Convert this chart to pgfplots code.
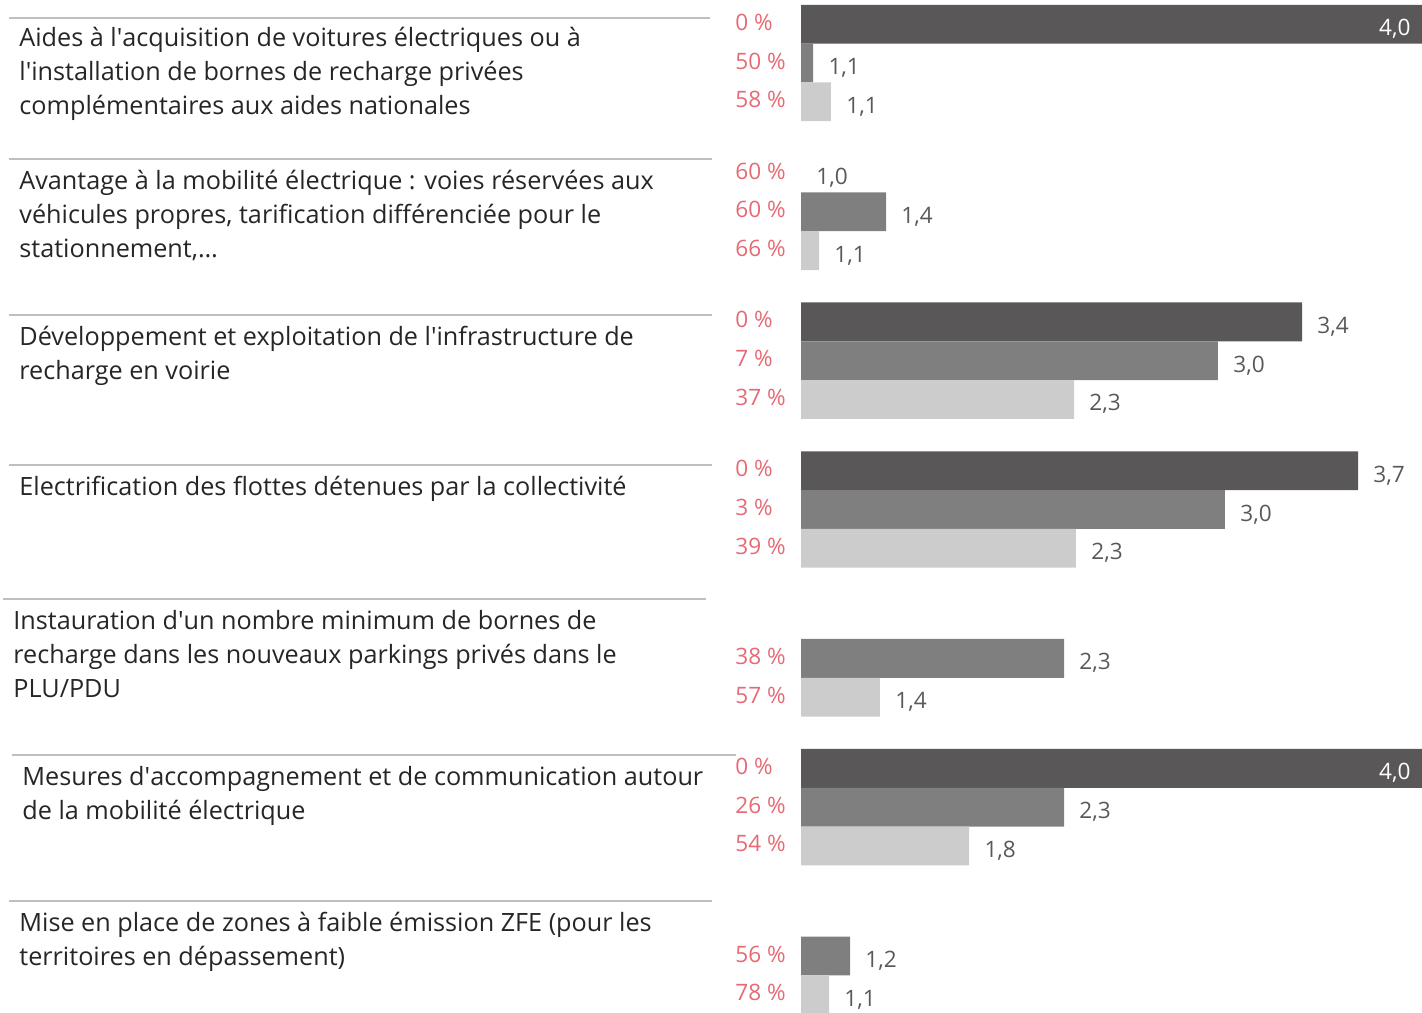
\documentclass[border=0pt]{standalone}
\usepackage{pgfplots}
\pgfplotsset{compat=1.18}
\usepackage{pgfplotstable}
\usepackage{fontspec}
\setmainfont{Open Sans}

\definecolor{cdark}{RGB}{89,87,88}
\definecolor{cmed}{RGB}{127,127,127}
\definecolor{clight}{RGB}{204,204,204}
\definecolor{cred}{RGB}{229,106,116}
\definecolor{cval}{RGB}{89,89,89}
\definecolor{ctext}{RGB}{38,38,38}
\definecolor{cline}{RGB}{191,191,191}

\newcommand{\labfont}{\fontsize{11.3pt}{13pt}\selectfont}
\newcommand{\catfont}{\fontsize{12.6pt}{17pt}\selectfont}
\newcommand{\q}{\textquotesingle}

% group index, value, value label, percentage
\pgfplotstableread{
g v lab p
0 4.029 4,0 0
5 4.029 4,0 0
}\darkfull
\pgfplotstableread{
g v lab p
1 1.000 1,0 60
}\darkzero
\pgfplotstableread{
g v lab p
2 3.444 3,4 0
3 3.717 3,7 0
}\darkrest
\pgfplotstableread{
g v lab p
0 1.059 1,1 50
1 1.415 1,4 60
2 3.034 3,0 7
3 3.068 3,0 3
4 2.283 2,3 38
5 2.283 2,3 26
6 1.239 1,2 56
}\medium
\pgfplotstableread{
g v lab p
0 1.146 1,1 58
1 1.088 1,1 66
2 2.332 2,3 37
3 2.341 2,3 39
4 1.385 1,4 57
5 1.820 1,8 54
6 1.137 1,1 78
}\light

\begin{document}
\begin{tikzpicture}
\useasboundingbox (0,0) rectangle (711pt,-506pt);
\begin{axis}[
  at={(400.5pt,0pt)}, anchor=north west,
  width=310.5pt, height=506pt, scale only axis,
  xmin=0, xmax=3.0293, ymin=-0.4233, ymax=6.3763, y dir=reverse,
  hide axis, clip=false,
  x filter/.expression={x-1},
  point meta=explicit symbolic,
  valstyle/.style={nodes near coords, nodes near coords style={anchor=base west, inner sep=0pt, xshift=7.5pt, yshift=#1, text=cval, font=\labfont}},
  pctstyle/.style={draw=none, mark=none, nodes near coords={\pgfplotspointmeta\ \%},
    nodes near coords style={anchor=base west, inner sep=0pt, yshift=#1, text=cred, font=\labfont}},
]
% bars
\addplot[xbar, bar width=19.4pt, bar shift=19.4pt, fill=cdark, draw=none,
  nodes near coords, nodes near coords style={anchor=base east, inner sep=0pt, xshift=-5.5pt, yshift=13.65pt, text=white, font=\labfont}]
  table[x=v, y=g, meta=lab]{\darkfull};
\addplot[xbar, bar width=19.4pt, bar shift=19.4pt, fill=none, draw=none, valstyle=13.65pt]
  table[x=v, y=g, meta=lab]{\darkzero};
\addplot[xbar, bar width=19.4pt, bar shift=19.4pt, fill=cdark, draw=none, valstyle=13.65pt]
  table[x=v, y=g, meta=lab]{\darkrest};
\addplot[xbar, bar width=19.4pt, bar shift=0pt, fill=cmed, draw=none, valstyle=-5.75pt]
  table[x=v, y=g, meta=lab]{\medium};
\addplot[xbar, bar width=19.4pt, bar shift=-19.4pt, fill=clight, draw=none, valstyle=-25.15pt]
  table[x=v, y=g, meta=lab]{\light};
% percentages
\addplot[pctstyle=16.4pt] table[x expr=0.678, y=g, meta=p]{\darkfull};
\addplot[pctstyle=16.4pt] table[x expr=0.678, y=g, meta=p]{\darkzero};
\addplot[pctstyle=16.4pt] table[x expr=0.678, y=g, meta=p]{\darkrest};
\addplot[pctstyle=-3pt] table[x expr=0.678, y=g, meta=p]{\medium};
\addplot[pctstyle=-22.4pt] table[x expr=0.678, y=g, meta=p]{\light};
\end{axis}

\begin{scope}[x=0.5pt, y=-0.5pt, every node/.style={anchor=base west, inner sep=0pt, text=ctext, font=\catfont}]
\draw[cline, line width=1pt] (9,17.5) -- (710,17.5);
\draw[cline, line width=1pt] (9,158.5) -- (712,158.5);
\draw[cline, line width=1pt] (9,315) -- (712,315);
\draw[cline, line width=1pt] (9,465) -- (712,465);
\draw[cline, line width=1pt] (3,599) -- (706,599);
\draw[cline, line width=1pt] (12,755) -- (736,755);
\draw[cline, line width=1pt] (9,901) -- (712,901);

\node at (19,46.7) {Aides à l\q acquisition de voitures électriques ou à};
\node at (19,80.7) {l\q installation de bornes de recharge privées};
\node at (19,114.7) {complémentaires aux aides nationales};

\node at (19,189) {Avantage à la mobilité électrique : voies réservées aux};
\node at (19,223) {véhicules propres, tarification différenciée pour le};
\node at (19,257) {stationnement,…};

\node at (19,345) {Développement et exploitation de l\q infrastructure de};
\node at (19,379) {recharge en voirie};

\node at (19,495) {Electrification des flottes détenues par la collectivité};

\node at (13,629) {Instauration d\q un nombre minimum de bornes de};
\node at (13,663) {recharge dans les nouveaux parkings privés dans le};
\node at (13,697) {PLU/PDU};

\node at (22,785) {Mesures d\q accompagnement et de communication autour};
\node at (22,819) {de la mobilité électrique};

\node at (19,931) {Mise en place de zones à faible émission ZFE (pour les};
\node at (19,965) {territoires en dépassement)};
\end{scope}
\end{tikzpicture}
\end{document}
